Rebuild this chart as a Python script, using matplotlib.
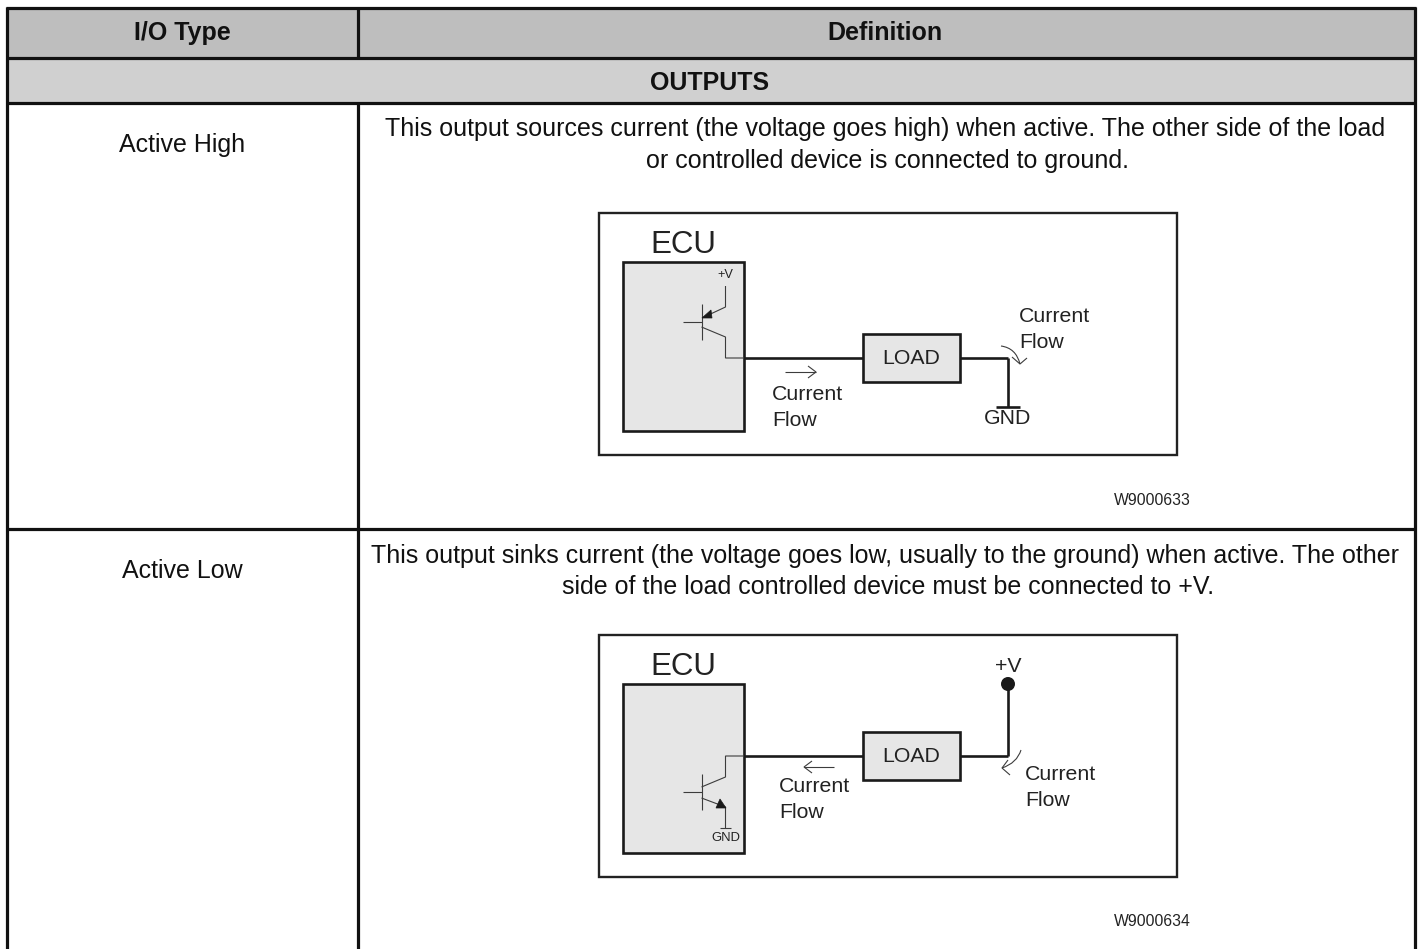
import matplotlib
matplotlib.use('Agg')
import matplotlib.pyplot as plt
from matplotlib.patches import Rectangle, Polygon, Circle, PathPatch
from matplotlib.path import Path

plt.rcParams['font.family'] = ['Liberation Sans', 'DejaVu Sans']

# Table text
headers = ['I/O Type', 'Definition']
section = 'OUTPUTS'
row_names = ['Active High', 'Active Low']
row_defs = [
    ['This output sources current (the voltage goes high) when active. The other side of the load',
     'or controlled device is connected to ground.'],
    ['This output sinks current (the voltage goes low, usually to the ground) when active. The other',
     'side of the load controlled device must be connected to +V.'],
]
figure_ids = ['W9000633', 'W9000634']
ecu_label = 'ECU'
load_label = 'LOAD'
flow_label = ['Current', 'Flow']
gnd_label = 'GND'
vcc_label = '+V'

TABLE_LW = 2.3
BOX_LW = 1.7
WIRE_LW = 1.9
THIN_LW = 0.8
INK = '#1a1a1a'
THIN = '#3c3c3c'

fig = plt.figure(figsize=(14.18, 9.49), dpi=100)
ax = fig.add_axes([0, 0, 1, 1])
ax.set_xlim(0, 1418)
ax.set_ylim(949, 0)
ax.axis('off')


def line(xs, ys, lw=WIRE_LW, color=INK, z=3):
    ax.plot(xs, ys, color=color, lw=lw, solid_capstyle='butt', solid_joinstyle='miter', zorder=z)


def label(x, y, s, size=18, ha='center', color='#111111', weight='normal'):
    # matplotlib's center sits about 2px above the reference text
    ax.text(x, y + 2, s, fontsize=size, ha=ha, va='center', color=color, fontweight=weight, zorder=5)


def curve_arrow(start, ctrl, tip, barb1, barb2):
    path = Path([start, ctrl, tip], [Path.MOVETO, Path.CURVE3, Path.CURVE3])
    ax.add_patch(PathPatch(path, fc='none', ec=THIN, lw=THIN_LW, zorder=4))
    line([barb1[0], tip[0], barb2[0]], [barb1[1], tip[1], barb2[1]], lw=THIN_LW, color=THIN, z=4)


def diagram_common(top):
    # outer frame, ECU box and the LOAD box are in the same place in both diagrams
    ax.add_patch(Rectangle((599, top), 578, 242, fc='white', ec='#222222', lw=BOX_LW, zorder=2))
    ax.add_patch(Rectangle((623, top + 49), 121, 169, fc='#e6e6e6', ec=INK, lw=WIRE_LW, zorder=2))
    label(683.5, top + 30, ecu_label, size=22.5, color='#222222')


def load_box(y):
    ax.add_patch(Rectangle((863, y - 24), 97, 48, fc='#e6e6e6', ec=INK, lw=WIRE_LW, zorder=3))
    label(911.5, y - 1, load_label, size=15.3, color='#222222')
    line([744, 863], [y, y])
    line([960, 1008], [y, y])


# Table background
ax.add_patch(Rectangle((7, 8), 351, 50, fc='#bebebe', ec='none', zorder=0))
ax.add_patch(Rectangle((358, 8), 1057, 50, fc='#bebebe', ec='none', zorder=0))
ax.add_patch(Rectangle((7, 58), 1408, 45, fc='#d0d0d0', ec='none', zorder=0))

# Table rules
line([7, 7], [7, 949], lw=TABLE_LW, color='#111111')
line([1415, 1415], [7, 949], lw=TABLE_LW, color='#111111')
line([358, 358], [7, 58], lw=TABLE_LW, color='#111111')
line([358, 358], [103, 949], lw=TABLE_LW, color='#111111')
for yy in [8, 58, 103, 529]:
    line([6, 1416], [yy, yy], lw=TABLE_LW, color='#111111')

# Table text
label(182, 31, headers[0], weight='bold')
label(885, 31, headers[1], weight='bold')
label(710, 81, section, weight='bold')
label(182, 143, row_names[0])
label(182, 569, row_names[1])
label(885, 127, row_defs[0][0])
label(888, 159, row_defs[0][1])
label(885, 554, row_defs[1][0])
label(888, 585, row_defs[1][1])

# Active High diagram
diagram_common(213)
load_box(358)
line([1008, 1008], [358, 407])
line([996, 1020], [407, 407])
label(1008, 417, gnd_label, size=15.3, color='#222222')
label(725, 273, vcc_label, size=9.2, color='#222222')
line([725.5, 725.5, 702], [286, 307, 318], lw=THIN_LW, color=THIN)
ax.add_patch(Polygon([(702, 318), (711, 310), (712, 318)], fc=INK, ec=INK, lw=0.5, zorder=4))
line([701.5, 701.5], [304, 340], lw=THIN_LW, color=THIN)
line([683, 701.5], [322, 322], lw=THIN_LW, color=THIN)
line([701.5, 725.5, 725.5, 744], [327, 337, 358, 358], lw=THIN_LW, color=THIN)
line([785, 816], [372, 372], lw=THIN_LW, color=THIN)
line([808, 816, 808], [366, 372, 378], lw=THIN_LW, color=THIN)
label(772, 393, flow_label[0], size=15.3, ha='left', color='#222222')
label(772, 418, flow_label[1], size=15.3, ha='left', color='#222222')
label(1019, 314, flow_label[0], size=15.3, ha='left', color='#222222')
label(1019, 340, flow_label[1], size=15.3, ha='left', color='#222222')
curve_arrow((1001, 346), (1016, 348), (1020, 364), (1012, 357), (1027, 358))
label(1191, 498, figure_ids[0], size=11.3, ha='right', color='#222222')

# Active Low diagram
diagram_common(635)
load_box(756)
line([1008, 1008], [756, 684])
ax.add_patch(Circle((1008, 684), 7, fc=INK, ec='none', zorder=4))
label(1008, 664, vcc_label, size=15.3, color='#222222')
line([744, 725.5, 725.5, 701.5], [756, 756, 777, 787], lw=THIN_LW, color=THIN)
line([701.5, 701.5], [774, 810], lw=THIN_LW, color=THIN)
line([683, 701.5], [792, 792], lw=THIN_LW, color=THIN)
line([701.5, 725.5, 725.5], [798, 807, 828], lw=THIN_LW, color=THIN)
ax.add_patch(Polygon([(726, 808), (716, 808), (720, 799)], fc=INK, ec=INK, lw=0.5, zorder=4))
line([720, 731], [828, 828], lw=THIN_LW, color=THIN)
label(725.5, 836, gnd_label, size=9.4, color='#222222')
line([804, 834], [767, 767], lw=THIN_LW, color=THIN)
line([812, 804, 812], [761, 767, 773], lw=THIN_LW, color=THIN)
label(779, 784, flow_label[0], size=15.3, ha='left', color='#222222')
label(779, 810, flow_label[1], size=15.3, ha='left', color='#222222')
label(1025, 772, flow_label[0], size=15.3, ha='left', color='#222222')
label(1025, 798, flow_label[1], size=15.3, ha='left', color='#222222')
curve_arrow((1021, 750), (1017, 763), (1002, 768), (1008, 760), (1010, 775))
label(1191, 919, figure_ids[1], size=11.3, ha='right', color='#222222')

fig.savefig('out.png', dpi=100, facecolor='white')
